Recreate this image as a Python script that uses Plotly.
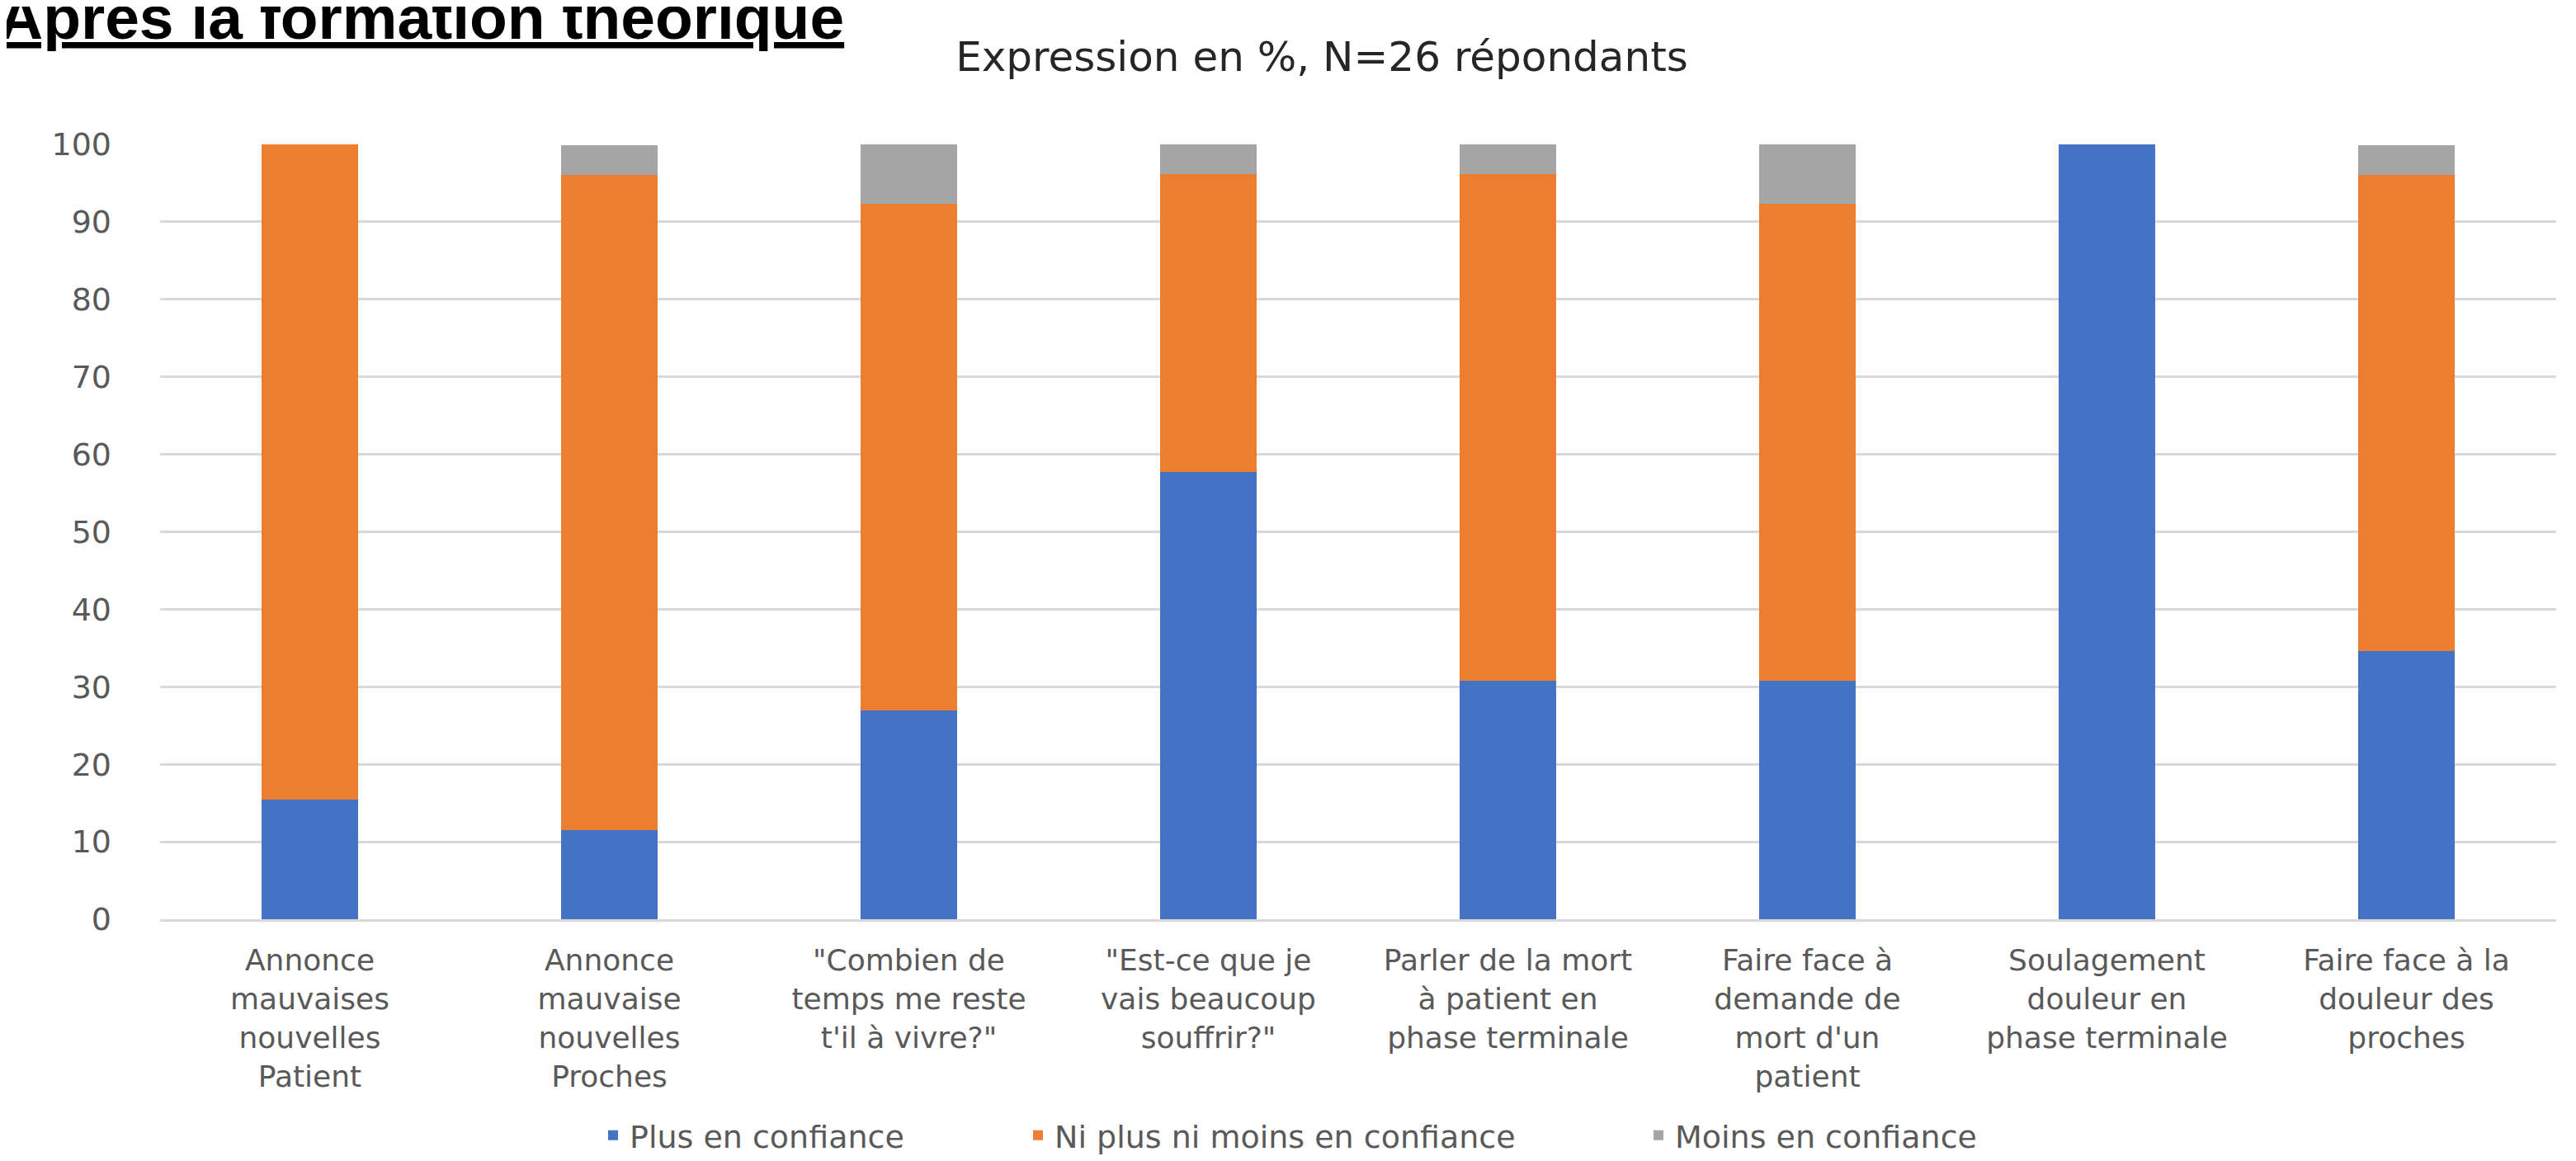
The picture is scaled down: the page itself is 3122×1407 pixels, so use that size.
import plotly.graph_objects as go

categories = [
    "Annonce<br>mauvaises<br>nouvelles<br>Patient",
    "Annonce<br>mauvaise<br>nouvelles<br>Proches",
    "\"Combien de<br>temps me reste<br>t'il à vivre?\"",
    "\"Est-ce que je<br>vais beaucoup<br>souffrir?\"",
    "Parler de la mort<br>à patient en<br>phase terminale",
    "Faire face à<br>demande de<br>mort d'un<br>patient",
    "Soulagement<br>douleur en<br>phase terminale",
    "Faire face à la<br>douleur des<br>proches",
]
plus_confiance = [15.4, 11.5, 26.9, 57.7, 30.8, 30.8, 100.0, 34.6]
ni_plus_ni_moins = [84.6, 84.6, 65.4, 38.5, 65.4, 61.5, 0.0, 61.5]
moins_confiance = [0.0, 3.8, 7.7, 3.8, 3.8, 7.7, 0.0, 3.8]
series_names = ["Plus en confiance", "Ni plus ni moins en confiance", "Moins en confiance"]
y_ticks = [0, 10, 20, 30, 40, 50, 60, 70, 80, 90, 100]

colors = ["#4472C4", "#ED7D31", "#A5A5A5"]

W, H = 3122, 1407
ml, mr, mt, mb = 186, 32, 167, 301
pw, ph = W - ml - mr, H - mt - mb

def px_x(p):
    return (p - ml) / pw

def px_y(p):
    return (mt + ph - p) / ph

legend_ids = ["legend", "legend2", "legend3"]
legend_left_px = [715, 1230, 1982]

fig = go.Figure()
for name, vals, col, lid in zip(series_names, [plus_confiance, ni_plus_ni_moins, moins_confiance], colors, legend_ids):
    fig.add_trace(go.Bar(x=categories, y=vals, name=name, legend=lid,
                         marker=dict(color=col, line=dict(width=0))))

lab_font = dict(family="DejaVu Sans", size=36, color="#595959")
leg_font = dict(family="DejaVu Sans", size=38, color="#595959")

layout_legends = {}
for lid, lx in zip(legend_ids, legend_left_px):
    layout_legends[lid] = dict(orientation="h", x=px_x(lx), xanchor="left",
                               y=px_y(1368), yanchor="middle",
                               font=leg_font, itemwidth=30, bgcolor="rgba(0,0,0,0)")

fig.update_layout(
    width=W, height=H,
    barmode="stack", bargap=0.68,
    plot_bgcolor="white", paper_bgcolor="white",
    margin=dict(l=ml, r=mr, t=mt, b=mb, autoexpand=False),
    title=dict(text="Expression en %, N=26 répondants",
               font=dict(family="DejaVu Sans", size=50, color="#262626"),
               x=px_x(1594), xref="paper", xanchor="center",
               y=1 - 60 / H, yref="container", yanchor="middle"),
    xaxis=dict(showgrid=False, showline=True, linecolor="#d9d9d9", linewidth=3,
               ticks="", tickfont=lab_font, ticklabelstandoff=16),
    yaxis=dict(range=[0, 100], tickvals=y_ticks, showgrid=True, gridcolor="#d9d9d9",
               gridwidth=3, zeroline=False, showline=False, ticks="",
               tickfont=dict(family="DejaVu Sans", size=38, color="#595959"),
               ticklabelstandoff=58),
    showlegend=True,
    **layout_legends,
)

fig.add_annotation(text="<b><u>Après la formation théorique</u></b>",
                   xref="paper", yref="paper",
                   x=px_x(-12), xanchor="left",
                   y=px_y(13), yanchor="middle",
                   showarrow=False,
                   font=dict(family="Liberation Sans", size=75, color="black"))

fig.write_html("out.html")
